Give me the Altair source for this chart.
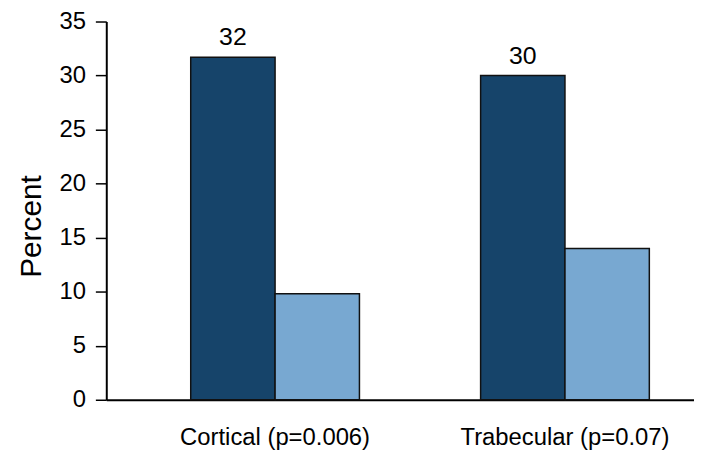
import altair as alt
import pandas as pd

categories = ["Cortical (p=0.006)", "Trabecular (p=0.07)"]
series = ["Group 1", "Group 2"]
values_1 = [31.7, 30.0]
values_2 = [9.8, 14.0]
labels_1 = ["32", "30"]
y_ticks = [0, 5, 10, 15, 20, 25, 30, 35]

rows = []
for i, c in enumerate(categories):
    rows.append({"site": c, "group": series[0], "value": values_1[i], "label": labels_1[i]})
    rows.append({"site": c, "group": series[1], "value": values_2[i], "label": ""})
df = pd.DataFrame(rows)

FONT = "Liberation Sans"

x_enc = alt.X(
    "site:N",
    sort=categories,
    scale=alt.Scale(paddingInner=0.418, paddingOuter=0.2227, align=0.654),
    axis=alt.Axis(
        title=None, labelAngle=0, labelFontSize=24, labelPadding=26, labelFont=FONT,
        labelColor="black", labelLimit=0, ticks=False, tickSize=0, domainWidth=2,
        domainColor="black", grid=False,
    ),
)
xoff = alt.XOffset("group:N", sort=series, scale=alt.Scale(paddingInner=0, paddingOuter=0))
y_enc = alt.Y(
    "value:Q",
    scale=alt.Scale(domain=[0, 35], nice=False),
    axis=alt.Axis(
        values=y_ticks, title="Percent", titleFontSize=30, titleFont=FONT, titleFontWeight="normal",
        titleColor="black", titlePadding=13, titleY=206, labelFontSize=24, labelFont=FONT,
        labelColor="black", labelPadding=10, tickSize=11, tickWidth=1.5, tickColor="black",
        domainWidth=2, domainColor="black", grid=False,
    ),
)

bars = alt.Chart(df).mark_bar(stroke="#111111", strokeWidth=1.5).encode(
    x=x_enc,
    xOffset=xoff,
    y=y_enc,
    color=alt.Color("group:N", scale=alt.Scale(domain=series, range=["#16446a", "#78a8d1"]), legend=None),
)

text = alt.Chart(df).mark_text(dy=-12, baseline="alphabetic", fontSize=25, font=FONT, color="black").encode(
    x=x_enc,
    xOffset=xoff,
    y=y_enc,
    text="label:N",
)

chart = (
    alt.layer(bars, text)
    .properties(
        width=592,
        height=381,
        autosize="none",
        padding={"left": 99, "top": 12, "right": 0, "bottom": 50},
    )
    .configure_view(stroke=None)
)

chart.save("out.html", embed_options={"renderer": "svg", "actions": False})
